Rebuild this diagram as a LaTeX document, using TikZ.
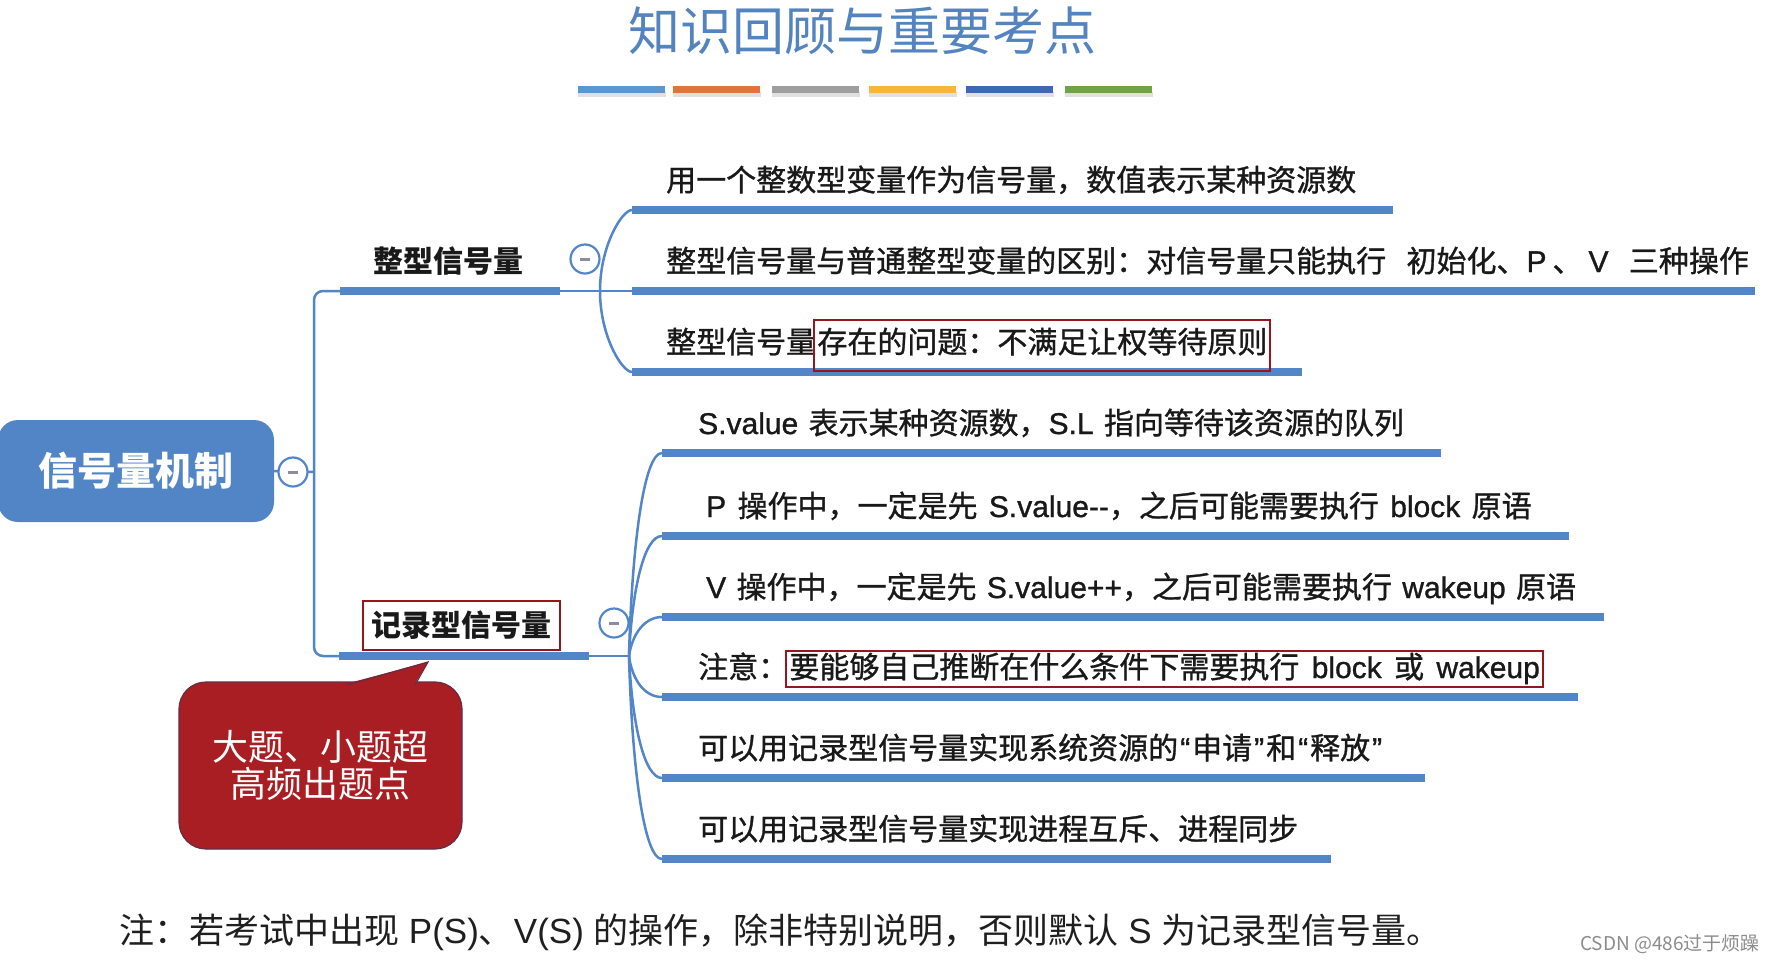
\documentclass[tikz,border=0pt]{standalone}
\usepackage{fontspec}
\setmainfont{Noto Sans CJK SC}
\newfontfamily\cjkmed[FakeBold=1]{Noto Sans CJK SC}
\newfontfamily\latmed[FakeBold=1]{Liberation Sans}
\newfontfamily\latreg{Liberation Sans}
\newcommand\la[1]{{\latmed #1}}
\newcommand\lr[1]{{\latreg #1}}
\newcommand\qt[1]{\kern2pt{\latmed #1}\kern2pt}
\newcommand\wsp[1]{{\latmed\ }\kern#1pt}
\definecolor{lineblue}{RGB}{82,134,200}
\definecolor{rootblue}{RGB}{82,133,198}
\definecolor{titleblue}{RGB}{84,132,192}
\definecolor{boxred}{RGB}{150,22,28}
\definecolor{calred}{RGB}{168,30,34}
\definecolor{calborder}{RGB}{100,45,70}
\definecolor{minusgray}{RGB}{140,140,160}
\definecolor{barA}{RGB}{91,150,208}
\definecolor{barB}{RGB}{224,117,60}
\definecolor{barC}{RGB}{158,158,158}
\definecolor{barD}{RGB}{245,183,55}
\definecolor{barE}{RGB}{62,104,178}
\definecolor{barF}{RGB}{112,162,72}
\tikzset{
  itemtext/.style={anchor=base west, inner sep=0pt, font=\cjkmed\fontsize{30}{36}\selectfont, text=black!90},
  uline/.style={line width=8pt, draw=lineblue},
  conn/.style={line width=2.5pt, draw=lineblue},
  btn/.style={circle, draw=lineblue, fill=white, line width=2.2pt, minimum size=29pt, inner sep=0pt,
    path picture={\draw[minusgray, line width=3pt] ([xshift=-5pt]path picture bounding box.center) -- ([xshift=5pt]path picture bounding box.center);}},
  redbox/.style={draw=boxred, line width=2pt},
  rootbox/.style={rounded corners=20pt, fill=rootblue, minimum width=276pt, minimum height=102pt, inner sep=0pt,
    text=white, font=\bfseries\fontsize{39}{39}\selectfont},
  branchtext/.style={inner sep=0pt, font=\bfseries\fontsize{30}{30}\selectfont, text=black!90},
  callout/.style={rounded corners=27pt, fill=calred, draw=calborder, line width=1.2pt, minimum width=283pt,
    minimum height=167pt, align=center, text=white, font=\fontsize{36}{37}\selectfont},
  bar/.style={minimum width=87pt, minimum height=7pt, inner sep=0pt, outer sep=0pt},
}
\begin{document}
\begin{tikzpicture}[x=1pt,y=-1pt]
\useasboundingbox (0,0) rectangle (1782,962);
\fill[white] (0,0) rectangle (1782,962);

% title and bars
\node[anchor=base, inner sep=0pt, font=\fontsize{52}{52}\selectfont, text=titleblue] (title) at (862,50) {知识回顾与重要考点};
\foreach \x/\c [count=\i] in {621.5/barA,716.5/barB,815/barC,912.5/barD,1009.5/barE,1108.5/barF}{
  \fill[black!12] (\x-43.5,92) rectangle (\x+44.5,97);
  \node[bar, fill=\c] (bar\i) at (\x,89.5) {};
}

% root
\node[rootbox] (root) at (136,471) {信号量机制};

% coordinates
\coordinate (tr) at (314,472);
\coordinate (b1s) at (340,291);
\coordinate (b1e) at (560,291);
\coordinate (o1) at (600,291);
\coordinate (b2s) at (339,656);
\coordinate (b2e) at (589,656);
\coordinate (o2) at (629,656);

\coordinate (p1s) at (632,210); \coordinate (p1e) at (1393,210);
\coordinate (p2s) at (632,291); \coordinate (p2e) at (1755,291);
\coordinate (p3s) at (632,372); \coordinate (p3e) at (1302,372);

\coordinate (q1s) at (662,453); \coordinate (q1e) at (1441,453);
\coordinate (q2s) at (662,536); \coordinate (q2e) at (1569,536);
\coordinate (q3s) at (662,617); \coordinate (q3e) at (1604,617);
\coordinate (q4s) at (662,697); \coordinate (q4e) at (1578,697);
\coordinate (q5s) at (662,778); \coordinate (q5e) at (1425,778);
\coordinate (q6s) at (662,859); \coordinate (q6e) at (1331,859);

% trunk
\draw[conn] (root.east) -- (tr);
\draw[conn, rounded corners=9pt] (b1s) -| (tr) |- (b2s);

% branch 1
\draw[uline] (b1s) -- (b1e);
\draw[conn] (b1e) -- (p2s);
\draw[conn] (o1) .. controls +(0,-45) and +(-10,0) .. (p1s);
\draw[conn] (o1) .. controls +(0,45) and +(-10,0) .. (p3s);
\draw[uline] (p1s) -- (p1e);
\draw[uline] (p2s) -- (p2e);
\draw[uline] (p3s) -- (p3e);

% branch 2
\draw[uline] (b2s) -- (b2e);
\draw[conn] (b2e) -- (o2);
\draw[conn] (o2) .. controls +(3,-112) and +(-18,0) .. (q1s);
\draw[conn] (o2) .. controls +(3,-66) and +(-18,0) .. (q2s);
\draw[conn] (o2) .. controls +(3,-21) and +(-18,0) .. (q3s);
\draw[conn] (o2) .. controls +(3,23) and +(-18,0) .. (q4s);
\draw[conn] (o2) .. controls +(3,67) and +(-18,0) .. (q5s);
\draw[conn] (o2) .. controls +(3,112) and +(-18,0) .. (q6s);
\foreach \k in {1,...,6}{\draw[uline] (q\k s) -- (q\k e);}

% buttons
\node[btn] (rbtn) at (293,472) {};
\node[btn] (b1btn) at (585,259) {};
\node[btn] (b2btn) at (614,623) {};

% branch labels
\node[branchtext, anchor=base] (b1) at (448,272) {整型信号量};
\node[branchtext, redbox, minimum width=197pt, minimum height=49pt] (b2) at (461,625) {记录型信号量};

% branch 1 items
\node[itemtext] (t11) at (666,191) {用一个整数型变量作为信号量，数值表示某种资源数};
\node[itemtext] (t12) at (666,272) {整型信号量与普通整型变量的区别：对信号量只能执行\wsp{12}初始化、\la{P}\kern6pt、\kern6pt\la{V}\wsp{12}三种操作};
\node[itemtext] (t13a) at (666,353) {整型信号量};
\node[itemtext, redbox, inner xsep=3pt, text height=33pt, text depth=18pt] (t13b) at ([xshift=-3pt]t13a.base east) {存在的问题：不满足让权等待原则};

% branch 2 items
\node[itemtext] (t21) at (698,434) {\la{S.value}\wsp{2}表示某种资源数，\la{S.L}\wsp{2}指向等待该资源的队列};
\node[itemtext] (t22) at (706,517) {\la{P}\wsp{3}操作中，一定是先\wsp{3}\la{S.value-{}-}，之后可能需要执行\wsp{3}\la{block}\wsp{3}原语};
\node[itemtext] (t23) at (706,598) {\la{V}\wsp{2}操作中，一定是先\wsp{2}\la{S.value++}，之后可能需要执行\wsp{2}\la{wakeup}\wsp{2}原语};
\node[itemtext] (t24a) at (698,678) {注意：};
\node[itemtext, redbox, inner xsep=3pt, text height=27pt, text depth=9pt] (t24b) at ([xshift=-3pt]t24a.base east) {要能够自己推断在什么条件下需要执行\wsp{4}\la{block}\wsp{4}或\wsp{4}\la{wakeup}};
\node[itemtext] (t25) at (698,759) {可以用记录型信号量实现系统资源的\qt{“}申请\qt{”}和\qt{“}释放\qt{”}};
\node[itemtext] (t26) at (698,840) {可以用记录型信号量实现进程互斥、进程同步};

% callout
\node[callout] (call) at (320.5,765.5) {大题、小题超\\高频出题点};
\coordinate (tl) at (347,683.5);
\coordinate (tt) at (428,662);
\coordinate (tq) at (415,683.5);
\fill[calred] (tl) -- (tt) -- (tq) -- cycle;
\draw[calborder, line width=1.2pt] ([yshift=-1.5pt]tl) -- (tt) -- ([yshift=-1.5pt]tq);

% footnote
\node[anchor=base west, inner sep=0pt, font=\fontsize{35}{35}\selectfont, text=black!88] (note) at (119,943) {注：若考试中出现\lr{ P(S)}、\lr{V(S) }的操作，除非特别说明，否则默认\lr{ S }为记录型信号量。};
\node[anchor=base west, inner sep=0pt, font=\fontsize{19}{19}\selectfont, text=black!45] (wm) at (1580,950) {CSDN @486过于烦躁};
\end{tikzpicture}
\end{document}
